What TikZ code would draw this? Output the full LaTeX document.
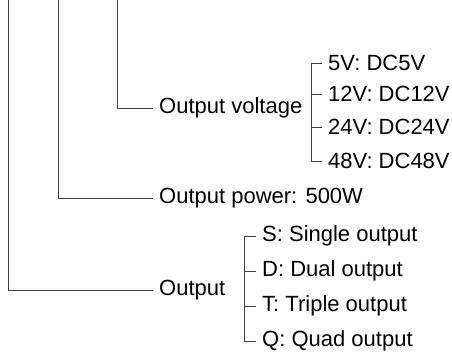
\documentclass[tikz,border=0pt]{standalone}
\usepackage{fontspec}
\setmainfont{Liberation Sans}
\usetikzlibrary{positioning}

\begin{document}
\begin{tikzpicture}[x=1pt, y=-1pt,
        stem/.style={draw=black!75, line width=0.9pt},
        item/.style={anchor=west, inner xsep=6pt, inner ysep=0pt,
                     font=\fontsize{22}{24}\selectfont, text=black}]
        \useasboundingbox (0,0) rectangle (452,360);

        % stems from the top
        \coordinate (T1) at (8,0);
        \coordinate (T2) at (58,0);
        \coordinate (T3) at (117,0);

        % main entries
        \node[item] (V) at (153,108) {Output voltage};
        \node[item] (P) at (153,198) {Output power: 500W};
        \node[item] (O) at (153,290) {Output};

        % voltage options
        \node[item] (V5)  at (322,63)  {5V: DC5V};
        \node[item] (V12) at (322,94)  {12V: DC12V};
        \node[item] (V24) at (322,127) {24V: DC24V};
        \node[item] (V48) at (322,161) {48V: DC48V};

        % output options
        \node[item] (S) at (256,236) {S: Single output};
        \node[item] (D) at (256,271) {D: Dual output};
        \node[item] (T) at (256,306) {T: Triple output};
        \node[item] (Q) at (256,341) {Q: Quad output};

        \draw[stem] (T3) |- (V.west);
        \draw[stem] (T2) |- (P.west);
        \draw[stem] (T1) |- (O.west);

        \draw[stem] (V5.west) -- ++(-11,0) |- (V48.west);
        \draw[stem] (V12.west) -- ++(-11,0);
        \draw[stem] (V24.west) -- ++(-11,0);

        \draw[stem] (S.west) -- ++(-12,0) |- (Q.west);
        \draw[stem] (D.west) -- ++(-12,0);
        \draw[stem] (T.west) -- ++(-12,0);
\end{tikzpicture}
\end{document}
